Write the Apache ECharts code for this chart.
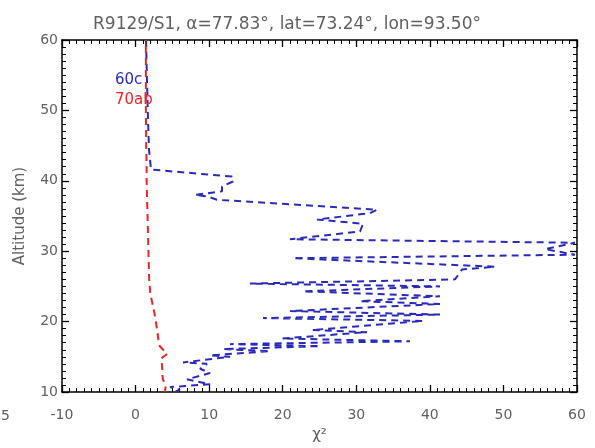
<!DOCTYPE html>
<html><head><meta charset="utf-8">
<script src="https://cdn.jsdelivr.net/npm/echarts@6/dist/echarts.min.js"></script>
<style>html,body{margin:0;padding:0;background:#fff}#c{width:595px;height:448px}</style>
</head><body><div id="c"></div>
<script>
// ---- data ----
const titleText = 'R9129/S1, α=77.83°, lat=73.24°, lon=93.50°';
const xTickValues = [-10, 0, 10, 20, 30, 40, 50, 60];
const yTickValues = [10, 20, 30, 40, 50, 60];
const seriesNames = ['60c', '70ab'];

// 60c (blue): chi^2 values and altitudes (km), in drawing order
const blueChi = [1.42, 1.55, 1.69, 1.83, 2.10, 13.11, 13.24, 11.75, 11.75, 8.08, 9.71, 11.07,
  32.82, 31.86, 24.66, 30.91, 30.51, 20.99, 59.73, 55.65, 59.73, 21.40, 48.86, 44.37, 43.42,
  15.55, 41.38, 22.76, 41.38, 30.51, 41.38, 20.99, 41.38, 17.32, 39.07, 23.98, 31.46, 19.90,
  37.30, 12.84, 25.07, 11.88, 18.27, 10.12, 12.84, 6.45, 9.71, 8.76, 10.12, 7.0, 10.12, 4.68, 6.04, 4.95];
const blueAlt = [60, 54.3, 48.7, 44.4, 41.6, 40.6, 39.9, 39.2, 38.5, 38.0, 37.8, 37.3,
  35.9, 35.4, 34.5, 33.9, 32.8, 31.7, 31.2, 30.3, 29.5, 29.0, 27.8, 27.4, 26.0,
  25.4, 25.0, 24.3, 23.6, 22.9, 22.5, 21.5, 21.0, 20.5, 20.1, 18.8, 18.5, 17.6,
  17.2, 16.8, 16.5, 16.1, 15.8, 15.2, 15.0, 14.2, 14.0, 13.3, 12.7, 11.8, 11.1, 10.7, 10.3, 10.0];

// 70ab (red)
const redChi = [1.4, 1.4, 1.4, 1.45, 1.5, 1.5, 1.6, 1.7, 1.8, 1.85, 2.0, 2.4, 2.6, 2.9, 3.1, 3.3, 4.3, 3.5, 3.6, 3.7, 4.1, 4.0];
const redAlt = [60, 55, 50, 45, 42, 40, 36, 32, 28, 26, 24, 22, 21, 19, 17.5, 16.5, 15.4, 14.8, 13.7, 11.8, 11.0, 10.0];

// ---- chart ----
const BLUE = '#2a2ab8', RED = '#e8262a', TXT = '#606060', FONT = 'DejaVu Sans';
const zip = (xs, ys) => xs.map((v, i) => [v, ys[i]]);

function axisBase(vals) {
  return {
    type: 'value', min: vals[0], max: vals[vals.length - 1], interval: vals[1] - vals[0],
    axisLine: { show: true, onZero: false, lineStyle: { color: '#000', width: 1.5 } },
    axisTick: { show: true, inside: true, length: 7, lineStyle: { color: '#000', width: 1.3 } },
    minorTick: { show: true, splitNumber: 10, length: 4, lineStyle: { color: '#000', width: 1 } },
    splitLine: { show: false }, minorSplitLine: { show: false }
  };
}

const chart = echarts.init(document.getElementById('c'), null, { renderer: 'canvas' });
chart.setOption({
  animation: false,
  backgroundColor: '#fff',
  title: { text: titleText, left: 88, top: 11, textStyle: { color: TXT, fontSize: 17, fontWeight: 'normal', fontFamily: FONT } },
  grid: { left: 62, right: 18, top: 40, bottom: 55 },
  legend: {
    orient: 'vertical', left: 104, top: 68, itemGap: 5, itemWidth: 1, itemHeight: 1, selectedMode: false,
    textStyle: { fontSize: 15, fontFamily: FONT },
    data: [
      { name: seriesNames[0], icon: 'none', textStyle: { color: BLUE } },
      { name: seriesNames[1], icon: 'none', textStyle: { color: RED } }
    ]
  },
  xAxis: [
    Object.assign(axisBase(xTickValues), {
      position: 'bottom', name: 'χ²', nameLocation: 'middle', nameGap: 36,
      nameTextStyle: { color: TXT, fontSize: 15, fontFamily: FONT },
      axisLabel: { show: true, color: TXT, fontSize: 14, margin: 16, fontFamily: FONT }
    }),
    Object.assign(axisBase(xTickValues), { position: 'top', axisLabel: { show: false } })
  ],
  yAxis: [
    Object.assign(axisBase(yTickValues), {
      position: 'left', name: 'Altitude (km)', nameLocation: 'middle', nameGap: 34, nameRotate: 90,
      nameTextStyle: { color: TXT, fontSize: 15, fontFamily: FONT },
      axisLabel: { show: true, color: TXT, fontSize: 14, margin: 4, fontFamily: FONT }
    }),
    Object.assign(axisBase(yTickValues), { position: 'right', axisLabel: { show: false } })
  ],
  graphic: [
    { type: 'text', left: 1, top: 409, style: { text: '5', fill: TXT, fontSize: 14, fontFamily: FONT } }
  ],
  series: [
    { type: 'line', name: seriesNames[0], data: zip(blueChi, blueAlt), symbol: 'none', color: BLUE,
      lineStyle: { color: BLUE, width: 2, type: [7, 5] } },
    { type: 'line', name: seriesNames[1], data: zip(redChi, redAlt), symbol: 'none', color: RED,
      lineStyle: { color: RED, width: 2, type: [7, 5], dashOffset: 6 } }
  ]
});
</script></body></html>
